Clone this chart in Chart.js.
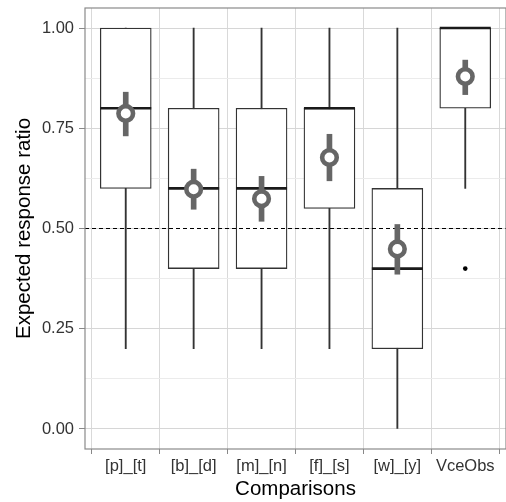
<!DOCTYPE html>
<html>
<head>
<meta charset="utf-8">
<script src="https://cdn.jsdelivr.net/npm/chart.js@4/dist/chart.umd.min.js"></script>
<style>
html,body{margin:0;padding:0;background:#fff;}
#wrap{width:506px;height:502px;}
</style>
</head>
<body>
<div id="wrap"><canvas id="c" width="506" height="502"></canvas></div>
<script>
// ---- data ----
const categories = ["[p]_[t]", "[b]_[d]", "[m]_[n]", "[f]_[s]", "[w]_[y]", "VceObs"];
const whiskerLow  = [0.20, 0.20, 0.20, 0.20, 0.00, 0.60];
const q1          = [0.60, 0.40, 0.40, 0.55, 0.20, 0.80];
const median      = [0.80, 0.60, 0.60, 0.80, 0.40, 1.00];
const q3          = [1.00, 0.80, 0.80, 0.80, 0.60, 1.00];
const whiskerHigh = [1.00, 1.00, 1.00, 1.00, 1.00, 1.00];
const meanValue   = [0.787, 0.598, 0.574, 0.677, 0.449, 0.879];
const ciLow       = [0.731, 0.548, 0.518, 0.619, 0.386, 0.834];
const ciHigh      = [0.840, 0.648, 0.630, 0.735, 0.510, 0.920];
const outliers    = [{cat: 6, value: 0.40}];
const referenceLine = 0.5;
const yMajorTicks = [0, 0.25, 0.5, 0.75, 1.0];
const yMinorTicks = [0.125, 0.375, 0.625, 0.875];
const xLimits = [0.4, 6.6];
const yLimits = [-0.05, 1.05];

// ---- build ----
const pos = categories.map((c, i) => i + 1);
const FONT = '"Liberation Sans", Arial, Helvetica, sans-serif';

const borderPlugin = {
  id: 'panelBorder',
  afterDraw(chart) {
    const a = chart.chartArea, ctx = chart.ctx;
    ctx.save();
    ctx.strokeStyle = '#8a8a8a';
    ctx.lineWidth = 1.2;
    ctx.strokeRect(a.left, a.top, a.right - a.left, a.bottom - a.top);
    ctx.restore();
  }
};

const allYTicks = yMajorTicks.concat(yMinorTicks).sort((a, b) => a - b);
const isMajor = v => yMajorTicks.some(m => Math.abs(m - v) < 1e-9);

new Chart(document.getElementById('c'), {
  type: 'bar',
  data: {
    datasets: [
      {
        type: 'bar', label: 'whisker', order: 7, grouped: false,
        data: pos.map((x, i) => ({x: x, y: [whiskerLow[i], whiskerHigh[i]]})),
        backgroundColor: '#333333', borderWidth: 0, barThickness: 1.2
      },
      {
        type: 'bar', label: 'box', order: 6, grouped: false,
        data: pos.map((x, i) => ({x: x, y: [q1[i], q3[i]]})),
        backgroundColor: '#ffffff', borderColor: '#333333', borderWidth: 1.3,
        borderSkipped: false, barThickness: 51
      },
      {
        type: 'line', label: 'ref', order: 5,
        data: xLimits.map(x => ({x: x, y: referenceLine})),
        borderColor: '#000000', borderWidth: 1.1, borderDash: [4, 3],
        pointRadius: 0, fill: false
      },
      {
        type: 'line', label: 'median', order: 4, showLine: false,
        data: pos.map((x, i) => ({x: x, y: median[i]})),
        pointStyle: 'line', pointRadius: 25.5, borderColor: '#1a1a1a',
        pointBorderWidth: 2.6, borderWidth: 2.6
      },
      {
        type: 'bar', label: 'ci', order: 3, grouped: false,
        data: pos.map((x, i) => ({x: x, y: [ciLow[i], ciHigh[i]]})),
        backgroundColor: '#666666', borderWidth: 0, barThickness: 5
      },
      {
        type: 'line', label: 'mean', order: 2, showLine: false,
        data: pos.map((x, i) => ({x: x, y: meanValue[i]})),
        pointStyle: 'circle', pointRadius: 7.3, pointBorderWidth: 4.6,
        pointBackgroundColor: '#ffffff', pointBorderColor: '#666666'
      },
      {
        type: 'line', label: 'outlier', order: 1, showLine: false,
        data: outliers.map(o => ({x: o.cat, y: o.value})),
        pointStyle: 'circle', pointRadius: 2.3, pointBorderWidth: 0,
        pointBackgroundColor: '#000000'
      }
    ]
  },
  options: {
    responsive: false,
    animation: false,
    events: [],
    layout: {autoPadding: false, padding: {top: 8, right: 0, left: 0, bottom: 0}},
    plugins: {legend: {display: false}, tooltip: {enabled: false}},
    scales: {
      x: {
        type: 'linear', min: xLimits[0], max: xLimits[1], offset: false,
        afterBuildTicks: ax => { ax.ticks = pos.map(v => ({value: v})); },
        afterFit: ax => { ax.height = 53; ax.paddingLeft = 0; ax.paddingRight = 0; },
        grid: {color: '#d9d9d9', lineWidth: 1, tickColor: '#888888', tickLength: 5, drawTicks: true},
        border: {display: false},
        ticks: {
          callback: v => categories[Math.round(v) - 1] || '',
          font: {family: FONT, size: 16.5}, color: '#333333', padding: 3,
          maxRotation: 0, autoSkip: false
        },
        title: {display: true, text: 'Comparisons', font: {family: FONT, size: 20.5},
                color: '#000000', padding: {top: 0, bottom: 0}}
      },
      y: {
        type: 'linear', min: yLimits[0], max: yLimits[1],
        afterBuildTicks: ax => { ax.ticks = allYTicks.map(v => ({value: v})); },
        afterFit: ax => { ax.width = 85; ax.paddingTop = 0; ax.paddingBottom = 0; },
        grid: {
          color: ctx => isMajor(ctx.tick.value) ? '#d6d6d6' : '#ebebeb',
          lineWidth: 1,
          tickColor: ctx => isMajor(ctx.tick.value) ? '#888888' : 'rgba(0,0,0,0)',
          tickLength: 6, drawTicks: true
        },
        border: {display: false},
        ticks: {
          callback: v => isMajor(v) ? v.toFixed(2) : '',
          font: {family: FONT, size: 16.5}, color: '#333333', padding: 5,
          autoSkip: false
        },
        title: {display: true, text: 'Expected response ratio', font: {family: FONT, size: 20.5},
                color: '#000000', padding: {top: 12, bottom: 0}}
      }
    }
  },
  plugins: [borderPlugin]
});
</script>
</body>
</html>
